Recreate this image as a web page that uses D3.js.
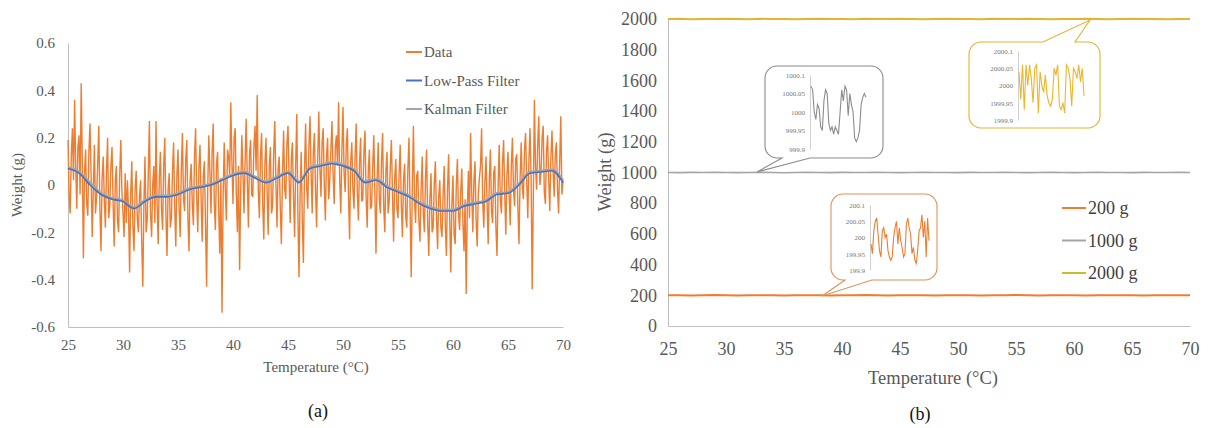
<!DOCTYPE html>
<html>
<head>
<meta charset="utf-8">
<script src="https://cdn.jsdelivr.net/npm/d3@7"></script>
<style>
  body { margin: 0; background: #fff; }
  text { font-family: "Liberation Serif", "DejaVu Serif", serif; }
</style>
</head>
<body>
<svg width="1209" height="428"></svg>
<script>
// ---- panel (a) data ----
const tempStep = 0.1   // data sampled every 0.1 °C from 25 to 70
const rawData = [
  0.19, -0.05, -0.12, 0.12, 0.24, 0.02, 0.36, 0.08, -0.10, 0.16, 0.21, -0.04, 0.43, 0.10, -0.31, 0.05, 0.15, -0.08, -0.13, 0.14,
  0.26, 0.04, -0.22, -0.02, 0.17, -0.12, -0.05, 0.09, 0.25, -0.10, -0.28, 0.03, 0.12, -0.06, -0.18, 0.06, 0.20, -0.14, -0.09, 0.08,
  0.16, -0.07, -0.26, 0.02, 0.08, -0.15, -0.20, 0.04, 0.19, -0.03, -0.12, -0.22, 0.05, -0.16, 0.02, -0.10, -0.37, -0.04, 0.10, -0.18,
  -0.28, -0.02, 0.06, -0.14, -0.20, -0.05, 0.02, -0.24, -0.43, -0.08, 0.12, -0.20, -0.15, 0.05, 0.27, -0.12, -0.22, 0.00, 0.08, -0.16,
  0.27, -0.08, -0.25, 0.03, 0.14, -0.10, -0.19, 0.08, 0.20, -0.12, -0.30, -0.02, 0.05, -0.18, -0.14, 0.06, 0.18, -0.09, -0.26, 0.04,
  0.15, -0.10, -0.22, 0.06, 0.22, -0.06, -0.11, 0.10, 0.19, -0.14, -0.28, 0.02, 0.09, -0.08, -0.17, 0.12, 0.24, -0.05, -0.20, 0.07,
  0.17, -0.06, -0.24, 0.04, 0.10, -0.16, -0.43, -0.02, 0.21, 0.05, -0.12, 0.14, 0.26, -0.08, -0.19, 0.09, 0.14, -0.11, -0.29, 0.03,
  -0.54, -0.06, 0.18, -0.02, -0.15, 0.15, 0.12, 0.04, 0.35, 0.10, -0.08, 0.20, 0.24, -0.04, -0.20, 0.08, -0.36, -0.03, 0.21, 0.06,
  -0.12, 0.10, 0.28, 0.02, -0.18, 0.13, 0.19, -0.04, -0.05, 0.16, 0.25, 0.06, 0.38, -0.02, -0.14, 0.12, 0.22, -0.08, -0.23, 0.09,
  0.20, -0.03, -0.21, 0.08, 0.16, -0.12, -0.09, 0.14, 0.27, 0.01, -0.18, 0.07, 0.12, -0.10, -0.25, 0.05, 0.23, -0.02, -0.06, 0.17,
  0.25, 0.03, -0.16, 0.11, 0.18, -0.05, -0.22, 0.09, 0.30, -0.12, -0.39, -0.04, 0.14, -0.15, -0.33, 0.06, 0.26, -0.01, -0.10, 0.16,
  0.29, 0.05, -0.12, 0.14, 0.22, -0.02, -0.18, 0.10, 0.31, 0.07, -0.05, 0.18, 0.24, 0.00, -0.15, 0.12, 0.20, -0.06, 0.02, 0.15,
  0.27, 0.04, -0.08, 0.16, 0.21, 0.08, 0.35, 0.02, -0.12, 0.15, 0.33, 0.05, -0.03, 0.17, 0.24, -0.05, -0.23, 0.10, 0.18, -0.02,
  -0.10, 0.12, 0.26, -0.03, -0.15, 0.09, 0.20, -0.07, -0.06, 0.14, 0.23, -0.05, -0.18, 0.06, 0.15, -0.10, -0.09, 0.08, 0.21, -0.04,
  -0.29, 0.02, 0.18, -0.06, -0.12, 0.10, 0.22, -0.09, -0.20, 0.06, 0.14, -0.12, -0.07, 0.08, 0.19, -0.04, -0.24, 0.03, 0.11, -0.10,
  -0.14, 0.05, 0.17, -0.08, -0.22, 0.02, 0.09, -0.13, -0.18, 0.07, 0.20, -0.10, -0.39, -0.02, 0.25, -0.06, -0.16, 0.04, 0.06, -0.15,
  -0.24, -0.02, 0.12, -0.12, -0.20, 0.03, 0.15, -0.16, -0.30, -0.06, 0.05, -0.20, -0.18, 0.01, 0.10, -0.14, -0.27, -0.05, 0.02, -0.18,
  -0.22, -0.04, 0.08, -0.17, -0.30, -0.02, 0.13, -0.14, -0.37, -0.08, 0.04, -0.21, -0.25, 0.00, 0.11, -0.12, -0.19, -0.03, 0.07, -0.16,
  -0.28, -0.06, -0.46, -0.10, 0.06, -0.14, 0.22, -0.03, -0.20, 0.02, 0.10, -0.15, -0.26, -0.04, 0.03, 0.08, 0.24, -0.07, -0.18, 0.01,
  0.12, -0.08, -0.25, 0.02, 0.15, -0.11, -0.16, 0.05, 0.08, -0.18, -0.30, -0.01, 0.17, -0.06, -0.12, 0.09, 0.19, -0.03, -0.21, 0.04,
  0.14, -0.04, -0.17, 0.08, 0.20, -0.02, -0.09, 0.11, 0.13, -0.10, -0.25, 0.03, 0.18, -0.01, -0.06, 0.15, 0.22, 0.02, -0.14, 0.10,
  0.24, 0.03, -0.44, -0.06, 0.36, 0.08, -0.02, 0.17, 0.29, 0.00, 0.05, 0.20, 0.25, -0.03, -0.08, 0.14, 0.21, 0.02, -0.11, 0.12,
  0.23, 0.06, -0.05, 0.13, 0.18, -0.02, -0.12, 0.10, 0.29, -0.04, 0.02
]
// filters, one value per °C from 25 to 70
const lowPass = [
  0.07, 0.05, 0.00, -0.04, -0.06, -0.07, -0.10, -0.07, -0.05, -0.05,
  -0.04, -0.02, -0.01, 0.00, 0.02, 0.04, 0.05, 0.03, 0.01, 0.03,
  0.05, 0.01, 0.07, 0.08, 0.09, 0.08, 0.06, 0.01, 0.02, -0.01,
  -0.03, -0.05, -0.08, -0.10, -0.11, -0.11, -0.09, -0.08, -0.07, -0.04,
  -0.035, 0.00, 0.05, 0.055, 0.06, 0.01
]
const kalman = [
  0.075, 0.055, 0.01, -0.035, -0.055, -0.065, -0.095, -0.065, -0.045, -0.045,
  -0.035, -0.015, -0.005, 0.005, 0.025, 0.045, 0.055, 0.035, 0.015, 0.035,
  0.055, 0.015, 0.075, 0.085, 0.095, 0.085, 0.065, 0.015, 0.025, -0.005,
  -0.025, -0.045, -0.075, -0.095, -0.105, -0.105, -0.085, -0.075, -0.065, -0.035,
  -0.03, 0.005, 0.055, 0.06, 0.065, 0.02
]
const ticksA = [-0.6, -0.4, -0.2, 0, 0.2, 0.4, 0.6]
const seriesA = ["Data", "Low-Pass Filter", "Kalman Filter"]

// ---- panel (b) data ----
const tempTicks = [25, 30, 35, 40, 45, 50, 55, 60, 65, 70]
const ticksB = [0, 200, 400, 600, 800, 1000, 1200, 1400, 1600, 1800, 2000]
const w200 = [
  200, 201, 199, 200, 202, 200, 199, 201, 200, 200, 199, 201, 200, 201, 199, 200,
  200, 202, 200, 199, 200, 201, 200, 199, 201, 200, 200, 199, 201, 200, 202, 200,
  199, 200, 201, 200, 199, 201, 200, 200, 201, 199, 200, 201, 200, 200
]
const w1000 = [
  1000, 999, 1001, 1000, 1002, 1000, 999, 1000, 1001, 1000, 998, 1000, 1001, 1000, 999, 1001,
  1000, 1000, 1002, 1000, 999, 1000, 1001, 1000, 1000, 999, 1001, 1000, 1000, 1002, 1000, 999,
  1000, 1001, 1000, 999, 1000, 1001, 1000, 1000, 999, 1001, 1000, 1000, 1001, 1000
]
const w2000 = [
  2000, 2001, 1999, 2000, 2000, 2002, 2000, 1999, 2001, 2000, 2000, 1999, 2000, 2001, 2000, 2000,
  1999, 2001, 2000, 2000, 2002, 2000, 1999, 2000, 2001, 2000, 2000, 1999, 2001, 2000, 2000, 2001,
  2000, 1999, 2000, 2000, 2001, 2000, 1999, 2000, 2001, 2000, 2000, 1999, 2000, 2000
]
const seriesB = ["200 g", "1000 g", "2000 g"]
// zoomed-in insets
const inset1000 = [
  1000.07, 1000.06, 1000.00, 999.98, 1000.02, 1000.01, 999.96, 999.95, 1000.03, 1000.06,
  1000.05, 999.97, 999.95, 999.96, 999.94, 999.96, 999.95, 999.94, 1000.00, 1000.06,
  1000.03, 1000.07, 1000.06, 999.99, 1000.05, 1000.02, 1000.00, 999.93, 999.92, 999.93,
  999.95, 1000.02, 1000.04, 1000.05, 1000.04
]
const inset2000 = [
  2000.04, 1999.96, 2000.06, 1999.93, 2000.06, 2000.00, 2000.06, 2000.02, 1999.95, 2000.05,
  2000.06, 1999.92, 2000.04, 2000.00, 1999.98, 2000.03, 1999.97, 1999.95, 1999.94, 1999.96,
  2000.05, 2000.03, 2000.06, 1999.94, 1999.93, 1999.95, 1999.92, 2000.06, 2000.05, 2000.02,
  1999.94, 2000.05, 2000.04, 2000.02, 2000.06, 2000.01, 2000.05, 1999.97
]
const inset200 = [
  199.98, 199.95, 200.02, 200.05, 200.06, 200.01, 199.96, 199.94, 200.02, 200.03,
  200.00, 200.01, 199.96, 199.94, 199.93, 199.94, 200.00, 200.03, 200.05, 199.98,
  200.03, 199.99, 199.97, 199.94, 199.95, 200.04, 200.06, 200.03, 200.01, 199.95,
  199.97, 199.93, 199.92, 199.96, 200.02, 200.03, 200.07, 200.00, 200.05, 199.94,
  200.06, 199.99
]
const insetTicks1000 = [999.9, 999.95, 1000, 1000.05, 1000.1]
const insetTicks2000 = [1999.9, 1999.95, 2000, 2000.05, 2000.1]
const insetTicks200 = [199.9, 199.95, 200, 200.05, 200.1]

const ORANGE = "#ED7D31", BLUE = "#4472C4", GREY = "#A5A5A5", GOLD = "#E2B52E"
const AXIS = "#BFBFBF", LABEL = "#595959"
const SERIF = "Liberation Serif"

const svg = d3.select("svg")
const fmt = v => String(+v.toFixed(2))

// =========== panel (a) ===========
const xA = d3.scaleLinear().domain([25, 70]).range([68, 563])
const yA = d3.scaleLinear().domain([-0.6, 0.6]).range([327, 43])
const gA = svg.append("g")

gA.append("g")
  .attr("transform", "translate(68,0)")
  .call(d3.axisLeft(yA).tickValues(ticksA).tickSize(0).tickPadding(13).tickFormat(fmt))
  .attr("font-family", SERIF)
  .call(g => g.select(".domain").attr("stroke", AXIS))
gA.append("g")
  .attr("transform", "translate(0,327)")
  .call(d3.axisBottom(xA).tickValues(tempTicks).tickSize(0).tickPadding(12))
  .attr("font-family", SERIF)
  .call(g => g.select(".domain").attr("stroke", AXIS))
gA.selectAll(".tick text").attr("font-size", 15).attr("fill", LABEL)

const lineA = d3.line().x(d => xA(d[0])).y(d => yA(d[1]))
gA.append("path")
  .datum(rawData.map((v, i) => [25 + i * tempStep, v]))
  .attr("d", lineA).attr("fill", "none").attr("stroke", ORANGE).attr("stroke-width", 1.4)
gA.append("path")
  .datum(kalman.map((v, i) => [25 + i, v]))
  .attr("d", lineA.curve(d3.curveMonotoneX)).attr("fill", "none")
  .attr("stroke", GREY).attr("stroke-width", 2.4)
gA.append("path")
  .datum(lowPass.map((v, i) => [25 + i, v]))
  .attr("d", lineA.curve(d3.curveMonotoneX)).attr("fill", "none")
  .attr("stroke", BLUE).attr("stroke-width", 1.6)

gA.append("text").attr("x", 316).attr("y", 372).attr("text-anchor", "middle")
  .attr("font-size", 15).attr("fill", LABEL).text("Temperature (°C)")
gA.append("text").attr("transform", "translate(22,185) rotate(-90)").attr("text-anchor", "middle")
  .attr("font-size", 15).attr("fill", LABEL).text("Weight (g)")
gA.append("text").attr("x", 318).attr("y", 417).attr("text-anchor", "middle")
  .attr("font-size", 18).attr("fill", "#111").text("(a)")

const legA = gA.selectAll(".legA").data(seriesA).enter().append("g")
  .attr("transform", (d, i) => `translate(406,${52 + i * 28.5})`)
legA.append("line").attr("x1", 0).attr("x2", 16)
  .attr("stroke", (d, i) => [ORANGE, BLUE, GREY][i]).attr("stroke-width", 2)
legA.append("text").attr("x", 18).attr("y", 5).attr("font-size", 15).attr("fill", LABEL)
  .text(d => d)

// =========== panel (b) ===========
const xB = d3.scaleLinear().domain([25, 70]).range([668, 1190])
const yB = d3.scaleLinear().domain([0, 2000]).range([326, 19])
const gB = svg.append("g")

gB.append("g")
  .attr("transform", "translate(668,0)")
  .call(d3.axisLeft(yB).tickValues(ticksB).tickSize(0).tickPadding(11).tickFormat(d3.format("d")))
  .attr("font-family", SERIF)
  .call(g => g.select(".domain").attr("stroke", AXIS))
gB.append("g")
  .attr("transform", "translate(0,326)")
  .call(d3.axisBottom(xB).tickValues(tempTicks).tickSize(0).tickPadding(16))
  .attr("font-family", SERIF)
  .call(g => g.select(".domain").attr("stroke", AXIS))
gB.selectAll(".tick text").attr("font-size", 18).attr("fill", LABEL)

const lineB = d3.line().x((d, i) => xB(25 + i)).y(d => yB(d))
gB.append("path").datum(w2000).attr("d", lineB).attr("fill", "none")
  .attr("stroke", GOLD).attr("stroke-width", 2)
gB.append("path").datum(w1000).attr("d", lineB).attr("fill", "none")
  .attr("stroke", GREY).attr("stroke-width", 1.6)
gB.append("path").datum(w200).attr("d", lineB).attr("fill", "none")
  .attr("stroke", ORANGE).attr("stroke-width", 2)

gB.append("text").attr("x", 933).attr("y", 384).attr("text-anchor", "middle")
  .attr("font-size", 18.5).attr("fill", LABEL).text("Temperature (°C)")
gB.append("text").attr("transform", "translate(611,172) rotate(-90)").attr("text-anchor", "middle")
  .attr("font-size", 18.5).attr("fill", LABEL).text("Weight (g)")
gB.append("text").attr("x", 920).attr("y", 420).attr("text-anchor", "middle")
  .attr("font-size", 18).attr("fill", "#111").text("(b)")

const legB = gB.selectAll(".legB").data(seriesB).enter().append("g")
  .attr("transform", (d, i) => `translate(1062,${208 + i * 32.5})`)
legB.append("line").attr("x1", 0).attr("x2", 24)
  .attr("stroke", (d, i) => [ORANGE, GREY, "#C9BE2A"][i]).attr("stroke-width", 2)
legB.append("text").attr("x", 26).attr("y", 6).attr("font-size", 18).attr("fill", "#404040")
  .text(d => d)

// callout: rounded box with a pointer to the main line
function callout(box, base, tip, color) {
  const [x0, y0, x1, y1] = box, r = 12
  const p = d3.path()
  const onBottom = base[0][1] >= y1
  p.moveTo(x0 + r, y0)
  if (!onBottom) { p.lineTo(base[0][0], y0); p.lineTo(tip[0], tip[1]); p.lineTo(base[1][0], y0) }
  p.lineTo(x1 - r, y0); p.arcTo(x1, y0, x1, y0 + r, r)
  p.lineTo(x1, y1 - r); p.arcTo(x1, y1, x1 - r, y1, r)
  if (onBottom) { p.lineTo(base[1][0], y1); p.lineTo(tip[0], tip[1]); p.lineTo(base[0][0], y1) }
  p.lineTo(x0 + r, y1); p.arcTo(x0, y1, x0, y1 - r, r)
  p.lineTo(x0, y0 + r); p.arcTo(x0, y0, x0 + r, y0, r)
  p.closePath()
  gB.append("path").attr("d", p.toString()).attr("fill", "#fff")
    .attr("stroke", color).attr("stroke-width", 1.1)
}

function inset(values, ticks, xr, yr, color) {
  const xs = d3.scaleLinear().domain([0, values.length - 1]).range(xr)
  const ys = d3.scaleLinear().domain([ticks[0], ticks[ticks.length - 1]]).range(yr)
  const g = gB.append("g")
  g.append("g").attr("transform", `translate(${xr[0] - 1},0)`)
    .call(d3.axisLeft(ys).tickValues(ticks).tickSize(0).tickPadding(5).tickFormat(fmt))
    .attr("font-family", SERIF)
    .call(a => a.select(".domain").attr("stroke", "#D0D0D0"))
    .call(a => a.selectAll("text").attr("font-size", 7).attr("fill", "#777"))
  g.append("path").datum(values)
    .attr("d", d3.line().x((d, i) => xs(i)).y(d => ys(d)))
    .attr("fill", "none").attr("stroke", color).attr("stroke-width", 1.1)
}

callout([765, 66, 883, 158], [[782, 158], [810, 158]], [757, 172], "#8C8C8C")
inset(inset1000, insetTicks1000, [811, 866], [149, 75], "#8C8C8C")

callout([969, 42, 1100, 128], [[1043, 42], [1075, 42]], [1090, 20], GOLD)
inset(inset2000, insetTicks2000, [1019, 1084], [120, 51], "#F0B429")

callout([831, 194, 937, 280], [[845, 280], [872, 280]], [822, 296], "#E0915A")
inset(inset200, insetTicks200, [871, 929], [270, 205], ORANGE)
</script>
</body>
</html>
